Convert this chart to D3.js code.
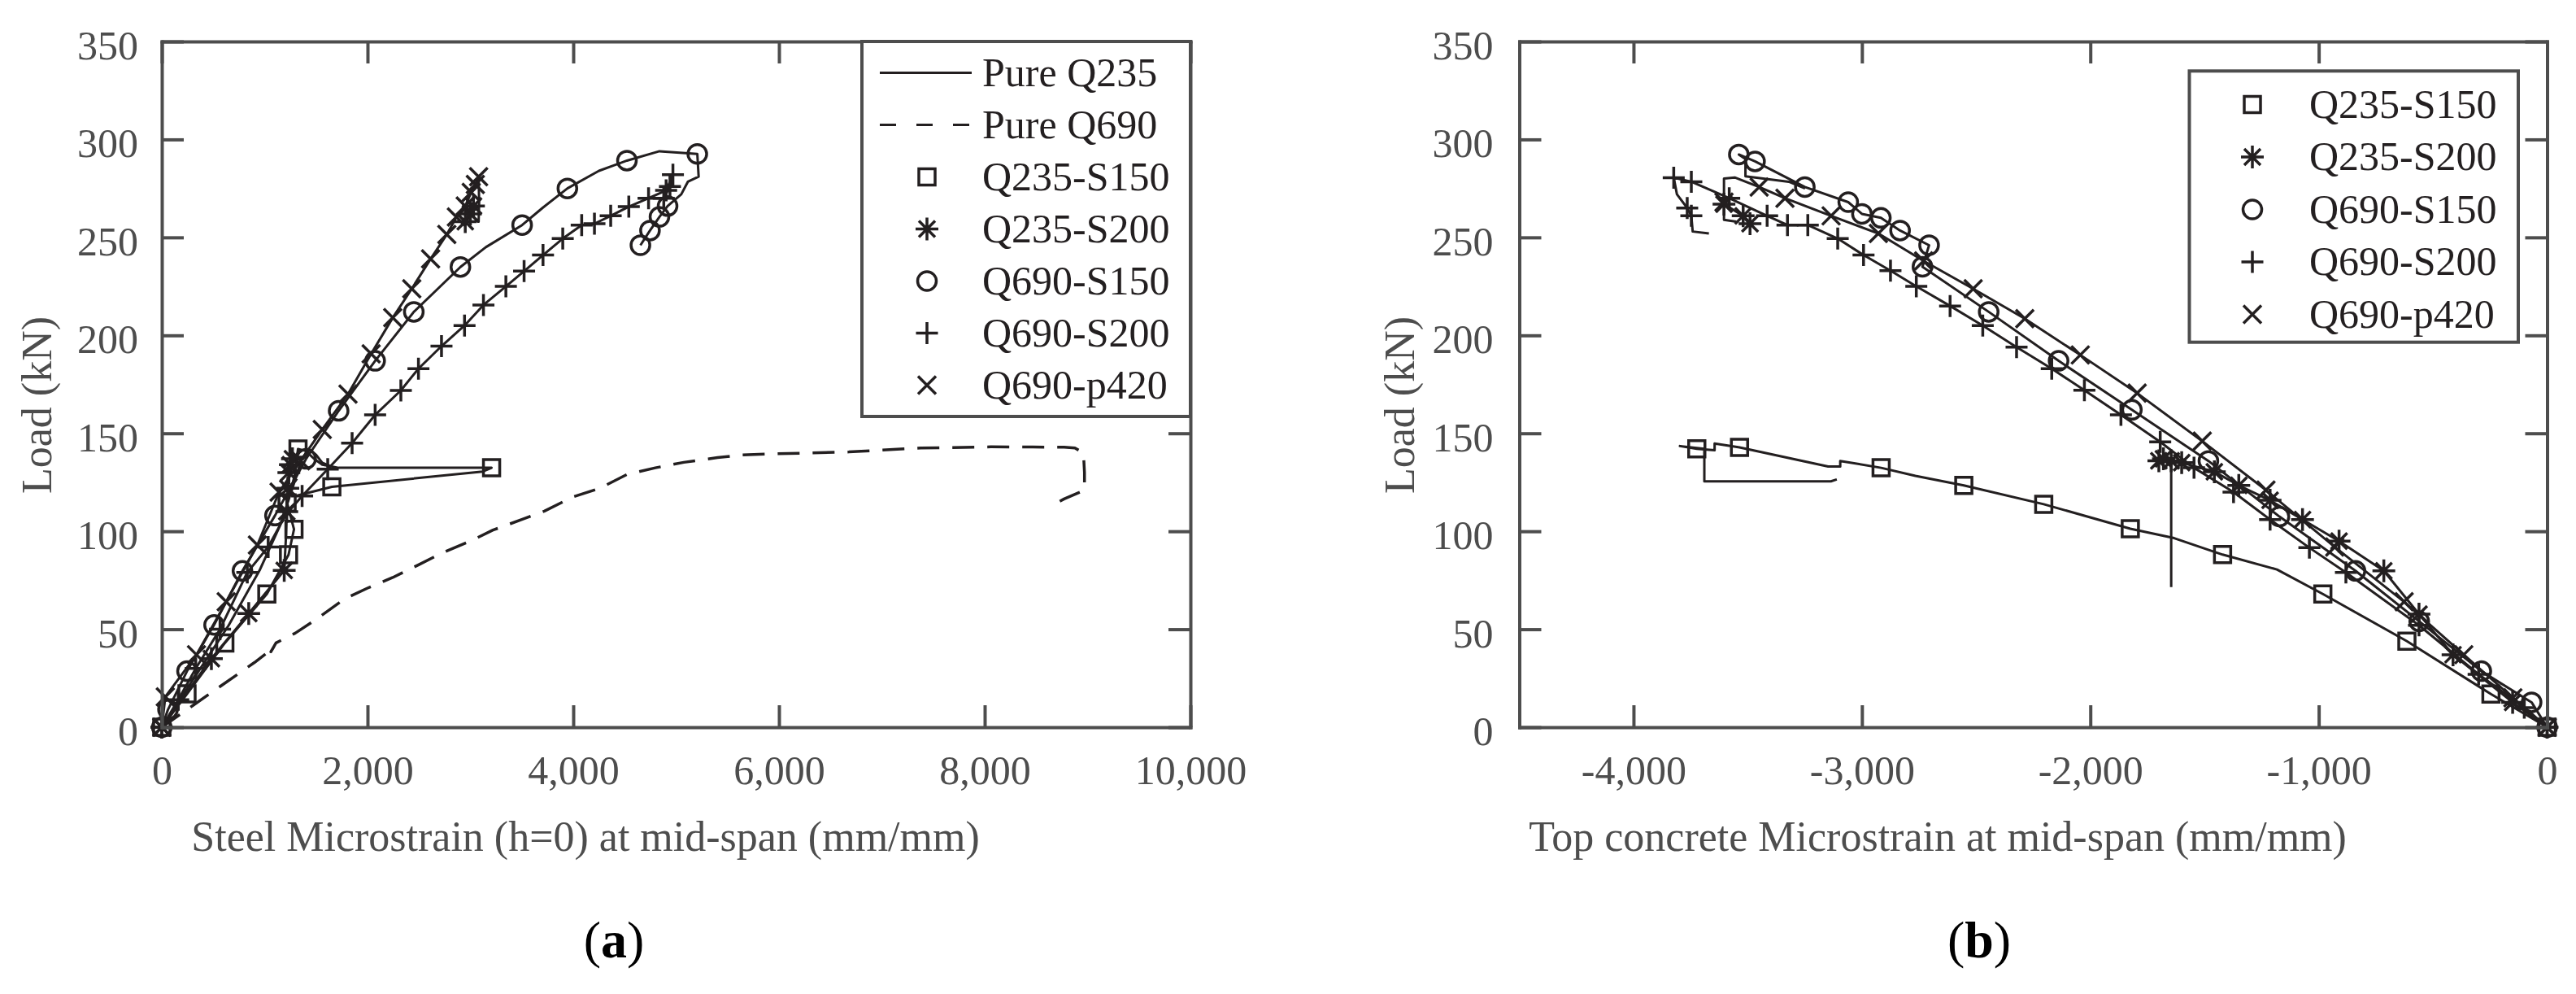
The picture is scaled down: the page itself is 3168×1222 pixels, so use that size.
<!DOCTYPE html>
<html><head><meta charset="utf-8">
<script src="https://cdn.jsdelivr.net/npm/d3@7"></script>
<style>
html,body{margin:0;padding:0;background:#fff;}
svg{display:block;}
text{font-family:"Liberation Serif","Times New Roman",serif;}
</style></head><body>
<svg id="chart" width="3168" height="1222"></svg>
<script>
// ---------- tick values / labels ----------
const xTicksA = [0, 2000, 4000, 6000, 8000, 10000];
const xTicksB = [-4000, -3000, -2000, -1000, 0];
const yTicks = [0, 50, 100, 150, 200, 250, 300, 350];
const xLabelA = "Steel Microstrain (h=0) at mid-span (mm/mm)";
const xLabelB = "Top concrete Microstrain at mid-span (mm/mm)";
const yLabel = "Load (kN)";
const namesA = ["Pure Q235", "Pure Q690", "Q235-S150", "Q235-S200", "Q690-S150", "Q690-S200", "Q690-p420"];
const namesB = ["Q235-S150", "Q235-S200", "Q690-S150", "Q690-S200", "Q690-p420"];

// ---------- panel (a): [microstrain, load (kN), marker?] ----------
const pureQ235A = [[0,0],[300,24],[650,52],[950,80],[1150,103],[1270,122],[1360,137],[1430,142],[1500,139],[1560,135],[1650,133]];
const pureQ690A = [[0,0],[300,11],[600,22],[900,33],[1072,40],[1095,41.5],[1060,38.5],[1110,43],[1297,48],[1500,55],[1771,65.3],[2000,71],[2245,76.4],[2500,83],[2719,88.8],[3000,95],[3219,100.6],[3500,106],[3719,110.3],[3995,117.5],[4259,122],[4522,129],[4798,132.4],[5075,135.2],[5403,137.6],[5640,139],[5983,139.6],[6325,140],[6680,140.5],[7377,142.5],[8061,143.1],[8772,142.9],[8877,142.5],[8960,140],[8970,130],[8970,121],[8772,116.5],[8628,112.4]];
const q235S150A = [[0,0,1],[245,17,1],[613,43,1],[1021,68,1],[1232,88,1],[1285,101,1],[1218,114.5,1],[1290,128,0],[1324,142,1],[1400,141,0],[1480,137,0],[1560,134,0],[1719,132.4,0],[3206,132.4,1],[3120,130.5,0],[1653,122.7,1],[1300,118,0]];
const q235S200A = [[0,0,1],[150,11,0],[482,35,1],[845,58,1],[1190,80,1],[1205,95,0],[1215,110,1],[1225,122,1],[1235,130,1],[1250,134,1],[1270,137,1],null,[2950,258,1],[3000,262,1],[3030,266,1]];
const q690S150A = [[0,0,1],[60,9,1],[245,28.6,1],[508,52.2,1],[784,79.8,1],[1100,108,1],[1403,137,1],[1719,161.5,1],[2074,187,1],[2450,212,1],[2903,234.9,1],[3150,245,0],[3503,256.3,1],[3700,265,0],[3943,275,1],[4250,284,0],[4522,289.2,1],[4838,294,0],[5206,292.6,1],[5219,281,0],[5114,278.4,0],[5050,272,0],[5006,270,0],[4917,266,1],[4838,260.5,1],[4746,253.5,1],[4653,246,1]];
const q690S200A = [[0,0,1],[160,14,1],[330,30,1],[566,50,1],[831,79,1],[1034,92,1],[1200,108,0],[1364,118,1],[1613,131.7,1],[1850,145,1],[2074,159.4,1],[2324,171.9,1],[2495,183,1],[2719,194.5,1],[2943,205,1],[3127,215.5,1],[3345,225,1],[3522,232.8,1],[3706,241,1],[3898,249.4,1],[4082,256.3,1],[4206,257,1],[4364,261,1],[4540,265.7,1],[4732,270,1],[4903,274,1],[4969,282,1],[4940,276,1],[4880,270,1]];
const q690p420A = [[0,0,1],[34,15.5,1],[337,37,1],[626,64,1],[929,93,1],[1140,120,1],[1350,136,1],[1560,152,1],[1810,170,1],[2035,190.6,1],[2245,209,1],[2430,223.8,1],[2613,239,1],[2771,251.5,1],[2864,260.4,1],[2950,266,1],[3008,273,1],[3048,277,1],[3080,281,1],[3085,268,0],[3080,258,0],[3000,262,0]];

// ---------- panel (b): [microstrain, load (kN), marker?] ----------
const q235S150B = [[0,0,1],[-246,16.9,1],[-614,43.9,1],[-982,68,1],[-1183,80.5,0],[-1421,88.1,1],[-1633,96.5,0],[-1825,101.3,1],[-2204,113.8,1],[-2554,123.4,1],[-2766,128.3,0],[-2916,132.4,1],[-3095,135.9,0],[-3095,133.1,0],[-3148,133.1,0],[-3536,142.8,1],[-3645,144.8,0],[-3645,141.4,0],[-3723,142.1,1],[-3797,143.5,0],[-3690,142.1,0],[-3690,125.5,0],[-3136,125.5,0],[-3110,126.5,0]];
const q235S200B = [[0,0,1],[-151,12.7,1],[-412,37,1],[-561,57.7,1],[-715,79.8,1],[-911,95,1],[-1071,106,1],[-1213,115.8,1],[-1350,123.4,1],[-1457,130.4,1],[-1600,135,1],[-1646,136,1],[-1680,137,1],[-1700,136,1],[-1646,135,0],[-1646,71.5,0],null,[-3604,267,1],[-3520,261,1],[-3490,257,1]];
const q690S150B = [[0,0,1],[-68,12.7,1],[-288,28.6,1],[-560,54,1],[-839,79.8,1],[-1172,107.5,1],[-1483,135.9,1],[-1818,162,1],[-2139,187,1],[-2445,212,1],[-2735,235,1],[-2706,246,1],[-2833,253.5,1],[-2917,260,1],[-3000,262,1],[-3060,268,1],[-3250,275.7,1],[-3468,288.8,1],[-3539,292.3,1],[-3510,290,0],[-3510,281.2,0],[-3320,278.4,0],[-3249,275,0]];
const q690S200B = [[0,0,1],[-100,10,1],[-300,27,1],[-561,52,1],[-881,79,1],[-1041,91.6,1],[-1213,106,1],[-1373,120,1],[-1546,132.4,1],[-1694,145.6,1],[-1866,159.4,1],[-2026,172,1],[-2169,183,1],[-2323,194,1],[-2471,205,1],[-2614,215,1],[-2762,225,1],[-2875,233,1],[-2993,241,1],[-3106,249.4,1],[-3237,256.3,1],[-3326,256.3,1],[-3415,261,1],[-3581,270,1],[-3747,278.4,1],[-3824,280.5,1],[-3810,272,0],[-3765,265,1],[-3747,261,1],[-3741,253,0],[-3670,252,0]];
const q690p420B = [[0,0,1],[-150,15,1],[-365,37,1],[-626,64,1],[-930,92,1],[-1231,121,1],[-1510,146,1],[-1795,170.5,1],[-2044,190,1],[-2287,208.5,1],[-2513,223.8,1],[-2730,238,1],[-2928,252,1],[-3135,261,1],[-3337,270,1],[-3450,275.7,1],[-3557,280.6,0],[-3604,280,0],[-3604,268,1],[-3604,259,0],[-3550,258,0]];

// ---------- styling ----------
const AX = "#4d4d4d", INK = "#231f20";
const svg = d3.select("#chart");

function markerPath(type, cx, cy) {
  const p = d3.path();
  if (type === "square") { p.rect(cx - 10, cy - 10, 20, 20); }
  else if (type === "circle") { p.moveTo(cx + 11.5, cy); p.arc(cx, cy, 11.5, 0, 2 * Math.PI); }
  else if (type === "plus") { p.moveTo(cx - 13.5, cy); p.lineTo(cx + 13.5, cy); p.moveTo(cx, cy - 13.5); p.lineTo(cx, cy + 13.5); }
  else if (type === "x") { p.moveTo(cx - 11, cy - 11); p.lineTo(cx + 11, cy + 11); p.moveTo(cx - 11, cy + 11); p.lineTo(cx + 11, cy - 11); }
  else if (type === "star") {
    p.moveTo(cx - 14, cy); p.lineTo(cx + 14, cy); p.moveTo(cx, cy - 14); p.lineTo(cx, cy + 14);
    p.moveTo(cx - 10, cy - 10); p.lineTo(cx + 10, cy + 10); p.moveTo(cx - 10, cy + 10); p.lineTo(cx + 10, cy - 10);
  }
  return p.toString();
}

function panel(cfg) {
  const x = d3.scaleLinear().domain(cfg.xDomain).range(cfg.xRange);
  const y = d3.scaleLinear().domain([0, 350]).range([894, 51]);
  const g = svg.append("g");

  // data
  const line = d3.line().defined(d => d !== null).x(d => x(d[0])).y(d => y(d[1]));
  cfg.series.forEach(s => {
    g.append("path").datum(s.data).attr("d", line)
      .attr("fill", "none").attr("stroke", INK).attr("stroke-width", s.dash ? 3.5 : 3)
      .attr("stroke-dasharray", s.dash ? "27,16" : null).attr("stroke-linejoin", "round");
    if (s.marker) {
      g.append("g").selectAll("path").data(s.data.filter(d => d && d[2])).join("path")
        .attr("d", d => markerPath(s.marker, x(d[0]), y(d[1])))
        .attr("fill", "none").attr("stroke", INK).attr("stroke-width", 3.5);
    }
  });

  // axes (box with inward ticks)
  const fmt = d => d3.format(",")(d).replace("\u2212", "-");
  const styleAxis = a => {
    a.attr("font-size", null).attr("font-family", null);
    a.select(".domain").attr("stroke", AX).attr("stroke-width", 4).attr("stroke-linecap", "square");
    a.selectAll(".tick line").attr("stroke", AX).attr("stroke-width", 4);
    a.selectAll(".tick text").attr("fill", AX).attr("font-size", 50);
  };
  const [x0, x1] = cfg.xRange;
  const bottom = g.append("g").attr("transform", `translate(0,${y(0)})`)
    .call(d3.axisBottom(x).tickValues(cfg.xTicks).tickSizeInner(-27).tickSizeOuter(0).tickPadding(34).tickFormat(fmt));
  styleAxis(bottom);
  const top = g.append("g").attr("transform", `translate(0,${y(350)})`)
    .call(d3.axisTop(x).tickValues(cfg.xTicks).tickSizeInner(-27).tickSizeOuter(0).tickFormat(""));
  styleAxis(top);
  const left = g.append("g").attr("transform", `translate(${x0},0)`)
    .call(d3.axisLeft(y).tickValues(yTicks).tickSizeInner(-27).tickSizeOuter(0).tickPadding(cfg.yPad));
  styleAxis(left);
  left.selectAll(".tick text").attr("dy", "0.43em");
  const right = g.append("g").attr("transform", `translate(${x1},0)`)
    .call(d3.axisRight(y).tickValues(yTicks).tickSizeInner(-27).tickSizeOuter(0).tickFormat(""));
  styleAxis(right);

  // axis labels
  g.append("text").attr("x", cfg.xLabelX).attr("y", 1046).attr("text-anchor", "middle")
    .attr("font-size", 52).attr("fill", AX).text(cfg.xLabel);
  g.append("text").attr("transform", `translate(${cfg.yLabelX},498) rotate(-90)`).attr("text-anchor", "middle")
    .attr("font-size", 52).attr("fill", AX).text(yLabel);

  // panel tag
  const tag = g.append("text").attr("x", cfg.tagX).attr("y", 1177).attr("text-anchor", "middle")
    .attr("font-size", 64).attr("fill", "#000");
  tag.append("tspan").text("(");
  tag.append("tspan").attr("font-weight", "bold").text(cfg.tag);
  tag.append("tspan").text(")");

  // legend
  const L = cfg.legend;
  const lg = g.append("g");
  lg.append("rect").attr("x", L.x).attr("y", L.y).attr("width", L.w).attr("height", L.h)
    .attr("fill", "#fff").attr("stroke", AX).attr("stroke-width", 4);
  cfg.series.forEach((s, i) => {
    const cy = L.y0 + i * L.step;
    if (s.marker) {
      lg.append("path").attr("d", markerPath(s.marker, L.mx, cy))
        .attr("fill", "none").attr("stroke", INK).attr("stroke-width", 3.5);
    } else {
      lg.append("line").attr("x1", L.lx0).attr("x2", L.lx1).attr("y1", cy).attr("y2", cy)
        .attr("stroke", INK).attr("stroke-width", 3).attr("stroke-dasharray", s.dash ? "20,25" : null);
    }
    lg.append("text").attr("x", L.tx).attr("y", cy + 16).attr("font-size", 50).attr("fill", INK).text(s.name);
  });
}

panel({
  xDomain: [0, 10000], xRange: [199, 1464], xTicks: xTicksA, yPad: 29,
  xLabel: xLabelA, xLabelX: 720, yLabelX: 63, tag: "a", tagX: 755,
  series: [
    { name: namesA[0], data: pureQ235A },
    { name: namesA[1], data: pureQ690A, dash: true },
    { name: namesA[2], data: q235S150A, marker: "square" },
    { name: namesA[3], data: q235S200A, marker: "star" },
    { name: namesA[4], data: q690S150A, marker: "circle" },
    { name: namesA[5], data: q690S200A, marker: "plus" },
    { name: namesA[6], data: q690p420A, marker: "x" }
  ],
  legend: { x: 1060, y: 51, w: 404, h: 461, y0: 89.5, step: 64, mx: 1140, lx0: 1082, lx1: 1195, tx: 1208 }
});

panel({
  xDomain: [-4500, 0], xRange: [1868.5, 3132.5], xTicks: xTicksB, yPad: 32,
  xLabel: xLabelB, xLabelX: 2383, yLabelX: 1739, tag: "b", tagX: 2434,
  series: [
    { name: namesB[0], data: q235S150B, marker: "square" },
    { name: namesB[1], data: q235S200B, marker: "star" },
    { name: namesB[2], data: q690S150B, marker: "circle" },
    { name: namesB[3], data: q690S200B, marker: "plus" },
    { name: namesB[4], data: q690p420B, marker: "x" }
  ],
  legend: { x: 2692.5, y: 87.3, w: 404.5, h: 333.4, y0: 128.5, step: 64.5, mx: 2770, lx0: 2720, lx1: 2820, tx: 2840 }
});
</script>
</body></html>
